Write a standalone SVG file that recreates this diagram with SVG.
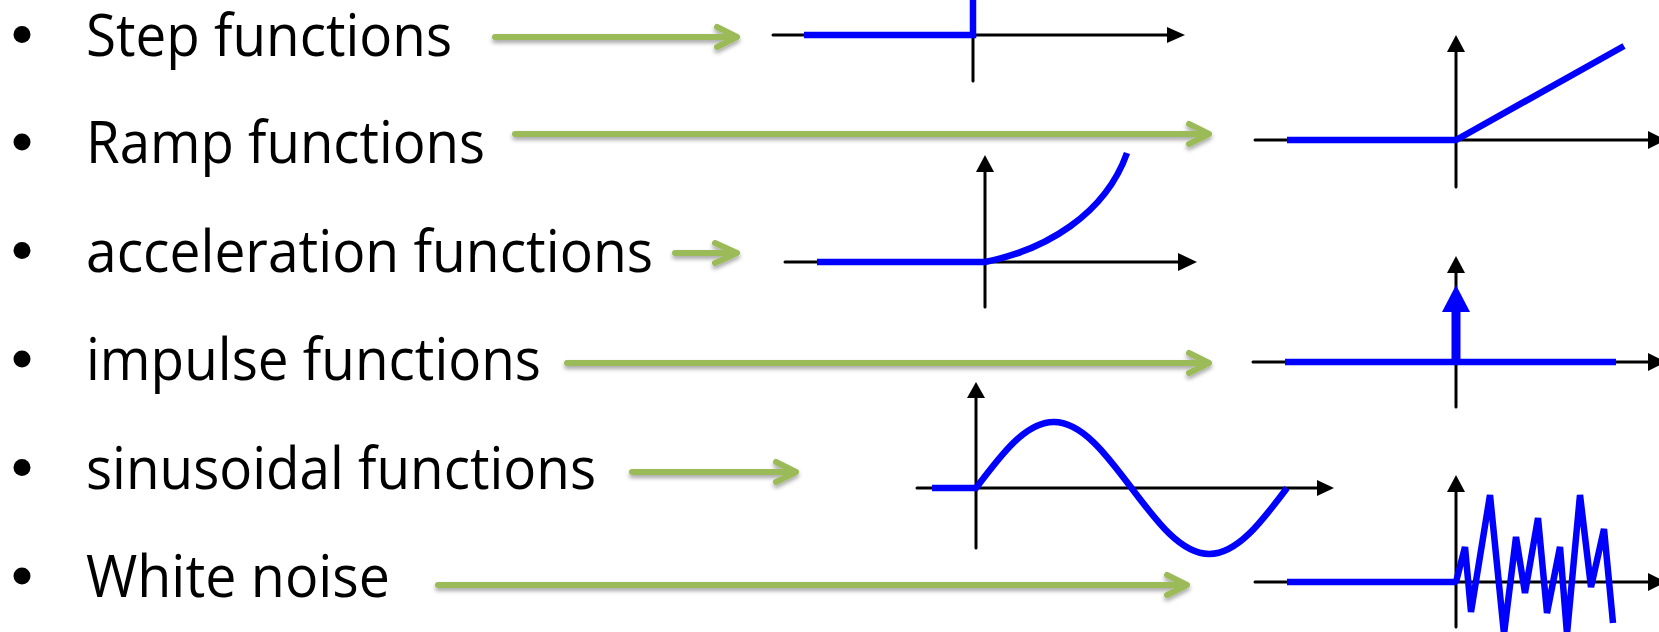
<svg xmlns="http://www.w3.org/2000/svg" width="1659" height="632" viewBox="0 0 1659 632">
<defs>
<style>
.lbl{font-family:"Open Sans","Liberation Sans",sans-serif;font-size:58px;fill:#000}
.bul{fill:#000}
.ax{stroke:#000;stroke-width:3;fill:none;stroke-linecap:round}
.ah{fill:#000}
.sig{stroke:#0000FF;stroke-width:6.5;fill:none;stroke-linejoin:miter;stroke-miterlimit:10}
.ga{stroke:#9BBB59;stroke-width:6;fill:none;stroke-linecap:round;stroke-linejoin:round}
</style>
<filter id="sh" x="-5%" y="-100%" width="110%" height="300%">
<feDropShadow dx="0" dy="3" stdDeviation="2" flood-color="#000" flood-opacity="0.35"/>
</filter>
</defs>
<rect width="1659" height="632" fill="#fff"/>

<g id="labels">
<g id="label-step"><circle class="bul" cx="22" cy="34.5" r="8.5"/><text class="lbl" x="86" y="55.5" textLength="366" lengthAdjust="spacingAndGlyphs">Step functions</text></g>
<g id="label-ramp"><circle class="bul" cx="22" cy="142" r="8.5"/><text class="lbl" x="86" y="163" textLength="399" lengthAdjust="spacingAndGlyphs">Ramp functions</text></g>
<g id="label-accel"><circle class="bul" cx="22" cy="250.5" r="8.5"/><text class="lbl" x="86" y="271.5" textLength="567" lengthAdjust="spacingAndGlyphs">acceleration functions</text></g>
<g id="label-impulse"><circle class="bul" cx="22" cy="359" r="8.5"/><text class="lbl" x="86" y="380" textLength="455" lengthAdjust="spacingAndGlyphs">impulse functions</text></g>
<g id="label-sin"><circle class="bul" cx="22" cy="467.5" r="8.5"/><text class="lbl" x="86" y="488.5" textLength="510" lengthAdjust="spacingAndGlyphs">sinusoidal functions</text></g>
<g id="label-noise"><circle class="bul" cx="22" cy="576" r="8.5"/><text class="lbl" x="86" y="597" textLength="304" lengthAdjust="spacingAndGlyphs">White noise</text></g>
</g>

<g id="plot-step">
<line class="ax" x1="773" y1="35" x2="1170" y2="35"/>
<polygon class="ah" points="1167,27 1185,35 1167,43"/>
<line class="ax" x1="973" y1="35" x2="973" y2="81"/>
<polyline class="sig" points="804,35 973,35 973,-5"/>
</g>

<g id="plot-ramp">
<line class="ax" x1="1255" y1="140" x2="1650" y2="140"/>
<polygon class="ah" points="1648,131 1666,140 1648,149"/>
<line class="ax" x1="1456" y1="50" x2="1456" y2="187"/>
<polygon class="ah" points="1447,52 1456,35 1465,52"/>
<polyline class="sig" points="1287,140 1456,140 1624,46"/>
</g>

<g id="plot-accel">
<line class="ax" x1="785" y1="262" x2="1180" y2="262"/>
<polygon class="ah" points="1178,253 1197,262 1178,271"/>
<line class="ax" x1="985" y1="170" x2="985" y2="307"/>
<polygon class="ah" points="976,172 985,155 994,172"/>
<path class="sig" d="M817,262 L985,262 C1045,250 1105,215 1127,153"/>
</g>

<g id="plot-impulse">
<line class="ax" x1="1253" y1="362" x2="1650" y2="362"/>
<polygon class="ah" points="1648,353 1666,362 1648,371"/>
<line class="ax" x1="1456" y1="270" x2="1456" y2="407"/>
<polygon class="ah" points="1447,273 1456,256 1465,273"/>
<line class="sig" x1="1285" y1="362" x2="1616" y2="362"/>
<line class="sig" x1="1456" y1="362" x2="1456" y2="308" style="stroke-width:9"/>
<polygon fill="#0000FF" points="1442,312 1456,285 1470,312"/>
</g>

<g id="plot-sin">
<line class="ax" x1="917" y1="488" x2="1320" y2="488"/>
<polygon class="ah" points="1317,480 1334,488 1317,496"/>
<line class="ax" x1="976" y1="396" x2="976" y2="548"/>
<polygon class="ah" points="967,398 976,382 985,398"/>
<path class="sig" d="M932,488 L976,488 C1001.4,454.2 1025.6,422 1053.75,422 C1081.9,422 1106.1,454.2 1131.5,488 C1156.9,521.8 1181.1,554 1209.25,554 C1237.4,554 1261.6,521.8 1287,488"/>
</g>

<g id="plot-noise">
<line class="ax" x1="1255" y1="582" x2="1650" y2="582"/>
<polygon class="ah" points="1648,573 1666,582 1648,591"/>
<line class="ax" x1="1456" y1="490" x2="1456" y2="627"/>
<polygon class="ah" points="1447,492 1456,475 1465,492"/>
<polyline class="sig" style="stroke-linejoin:bevel" points="1287,582 1456,582 1465,547 1471,612 1490,495 1504,634 1516,537 1525,593 1538,518 1547,613 1560,547 1567,634 1580,495 1591,587 1604,529 1613,623"/>
</g>

<g id="connectors" filter="url(#sh)">
<path class="ga" d="M495,37 L737,37 M717,27 L737,37 L717,47"/>
<path class="ga" d="M515,134 L1209,134 M1189,124 L1209,134 L1189,144"/>
<path class="ga" d="M675,253 L737,253 M715,243 L737,253 L715,263"/>
<path class="ga" d="M567,363 L1209,363 M1189,353 L1209,363 L1189,373"/>
<path class="ga" d="M632,472 L796,472 M776,462 L796,472 L776,482"/>
<path class="ga" d="M438,585 L1187,585 M1167,575 L1187,585 L1167,595"/>
</g>
</svg>
